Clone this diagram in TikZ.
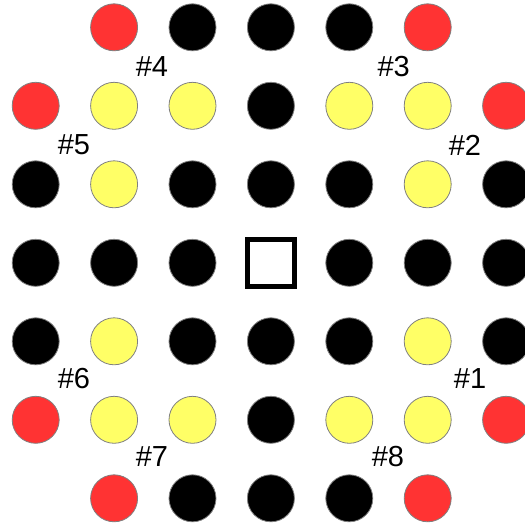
\documentclass[tikz,border=0pt]{standalone}
\usepackage{fontspec}
\setsansfont{Liberation Sans}
\usepackage{xcolor}
\usepackage{tikz}
\usetikzlibrary{positioning}
\definecolor{pgRed}{HTML}{FF3333}
\definecolor{pgYellow}{HTML}{FFFF66}
\definecolor{pgBlack}{HTML}{000000}
\definecolor{pgRim}{HTML}{808080}
\definecolor{pgWhite}{HTML}{FFFFFF}
\tikzset{
  pg-dot/.style={
    circle, draw=pgRim, line width=0.8pt, inner sep=0pt,
    minimum size=47pt
  },
  pg-r/.style={pg-dot, fill=pgRed},
  pg-y/.style={pg-dot, fill=pgYellow},
  pg-k/.style={pg-dot, fill=pgBlack},
  pg-hole/.style={draw=pgBlack, line width=5pt, rectangle,
    inner sep=0pt, minimum size=47pt, fill=pgWhite},
  pg-label/.style={font=\fontsize{29}{34}\selectfont\sffamily,
    text=pgBlack, inner sep=0pt}
}

\begin{document}
\begin{tikzpicture}[x=1pt, y=1pt]
\useasboundingbox (0,0) rectangle (525,-525);

% --- Board ---
\foreach \row/\pegs in {0/{n,r,k,k,k,r,n}, 1/{r,y,y,k,y,y,r},
    2/{k,y,k,k,k,y,k}, 3/{k,k,k,n,k,k,k}, 4/{k,y,k,k,k,y,k},
    5/{r,y,y,k,y,y,r}, 6/{n,r,k,k,k,r,n}}{
  \foreach \peg [count=\col from 0] in \pegs {
    \if\peg n\else
      \node[pg-\peg] (peg-\row-\col)
        at ({35.7+78.4*\col}, {-27.3-78.5*\row}) {};
    \fi
  }
}
\node[pg-hole] (hole) at (270.9,-262.8) {};

% --- Jumps ---
\node[pg-label] (jump-1) at (470,-378.7) {\#1};
\node[pg-label] (jump-2) at (465,-145) {\#2};
\node[pg-label] (jump-3) at (393.7,-66.7) {\#3};
\node[pg-label] (jump-4) at (152,-66.7) {\#4};
\node[pg-label] (jump-5) at (74,-145) {\#5};
\node[pg-label] (jump-6) at (74,-378.7) {\#6};
\node[pg-label] (jump-7) at (152,-457) {\#7};
\node[pg-label] (jump-8) at (388,-457) {\#8};
\end{tikzpicture}
\end{document}
